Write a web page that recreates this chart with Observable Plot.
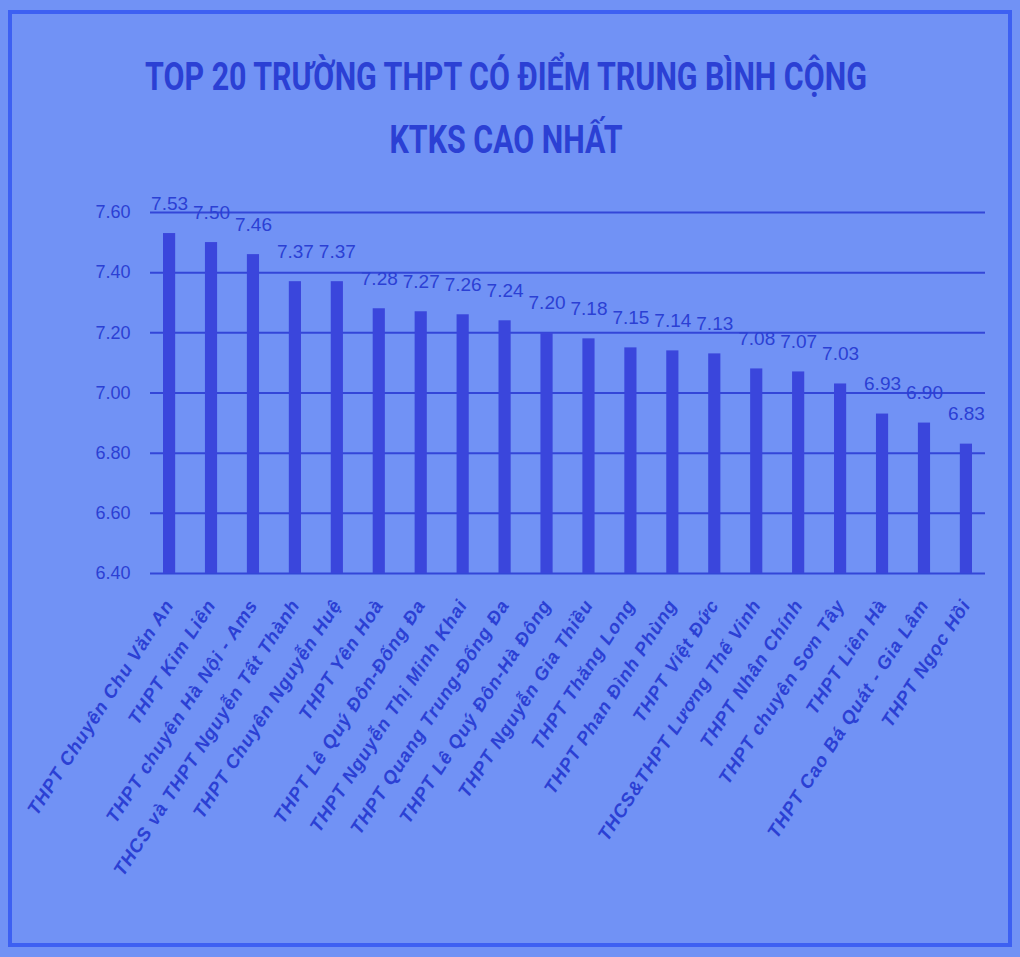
<!DOCTYPE html>
<html>
<head>
<meta charset="utf-8">
<script src="https://cdn.jsdelivr.net/npm/d3@7"></script>
<script src="https://cdn.jsdelivr.net/npm/@observablehq/plot@0.6"></script>
<style>
  html, body { margin: 0; padding: 0; }
  body { width: 1020px; height: 957px; background: #7192f5; position: relative; overflow: hidden; font-family: "Liberation Sans", Arial, sans-serif; }
  #frame { position: absolute; left: 8px; top: 10px; width: 996px; height: 929px; border: 4px solid #3d60f2; }
  #title { position: absolute; left: 0; top: 46px; width: 1012px; text-align: center; color: #2b40d4;
           font-family: "Roboto", sans-serif; font-weight: bold; font-size: 38px; line-height: 63px;
           transform: scaleX(0.8); transform-origin: 506px 0; }
  #chart { position: absolute; left: 0; top: 170px; }
  #chart g[aria-label="x-axis tick label"] text { letter-spacing: 1px; }
</style>
</head>
<body>
<div id="frame"></div>
<div id="title">TOP 20 TRƯỜNG THPT CÓ ĐIỂM TRUNG BÌNH CỘNG<br>KTKS CAO NHẤT</div>
<div id="chart"></div>
<script>
const schools = [
  "THPT Chuyên Chu Văn An",
  "THPT Kim Liên",
  "THPT chuyên Hà Nội - Ams",
  "THCS và THPT Nguyễn Tất Thành",
  "THPT Chuyên Nguyễn Huệ",
  "THPT Yên Hoà",
  "THPT Lê Quý Đôn-Đống Đa",
  "THPT Nguyễn Thị Minh Khai",
  "THPT Quang Trung-Đống Đa",
  "THPT Lê Quý Đôn-Hà Đông",
  "THPT Nguyễn Gia Thiều",
  "THPT Thăng Long",
  "THPT Phan Đình Phùng",
  "THPT Việt Đức",
  "THCS&THPT Lương Thế Vinh",
  "THPT Nhân Chính",
  "THPT chuyên Sơn Tây",
  "THPT Liên Hà",
  "THPT Cao Bá Quát - Gia Lâm",
  "THPT Ngọc Hồi"
];
const scores = [7.53, 7.50, 7.46, 7.37, 7.37, 7.28, 7.27, 7.26, 7.24, 7.20, 7.18, 7.15, 7.14, 7.13, 7.08, 7.07, 7.03, 6.93, 6.90, 6.83];
const yTicks = [6.4, 6.6, 6.8, 7.0, 7.2, 7.4, 7.6];
const yBase = 6.4;

const data = schools.map((s, i) => ({school: s, score: scores[i]}));
const ink = "#2b40d4";

const chart = Plot.plot({
  width: 1020,
  height: 770,
  marginLeft: 150,
  marginRight: 35,
  marginTop: 42,
  marginBottom: 367,
  style: {background: "transparent", color: ink, fontFamily: "'Liberation Sans', Arial, sans-serif"},
  x: {domain: schools, paddingInner: 0.71, paddingOuter: 0.31, round: false, label: null},
  y: {domain: [yTicks[0], yTicks[yTicks.length - 1]], label: null},
  marks: [
    Plot.gridY(yTicks, {stroke: "#3346d8", strokeOpacity: 1, strokeWidth: 2}),
    Plot.barY(data, {x: "school", y1: () => yBase, y2: "score", fill: "#3a46dc"}),
    Plot.text(data, {x: "school", y: "score", text: d => d.score.toFixed(2), dy: -30, fontSize: 19, fill: ink}),
    Plot.axisY(yTicks, {tickSize: 0, tickPadding: 20, tickFormat: d => d.toFixed(2), fontSize: 18, fill: ink, label: null}),
    Plot.axisX({tickSize: 0, tickPadding: 28, tickRotate: -57, textAnchor: "end", fontSize: 18.5, fontWeight: "bold", fontStyle: "italic", fill: ink, label: null})
  ]
});
document.getElementById("chart").appendChild(chart);
</script>
</body>
</html>
